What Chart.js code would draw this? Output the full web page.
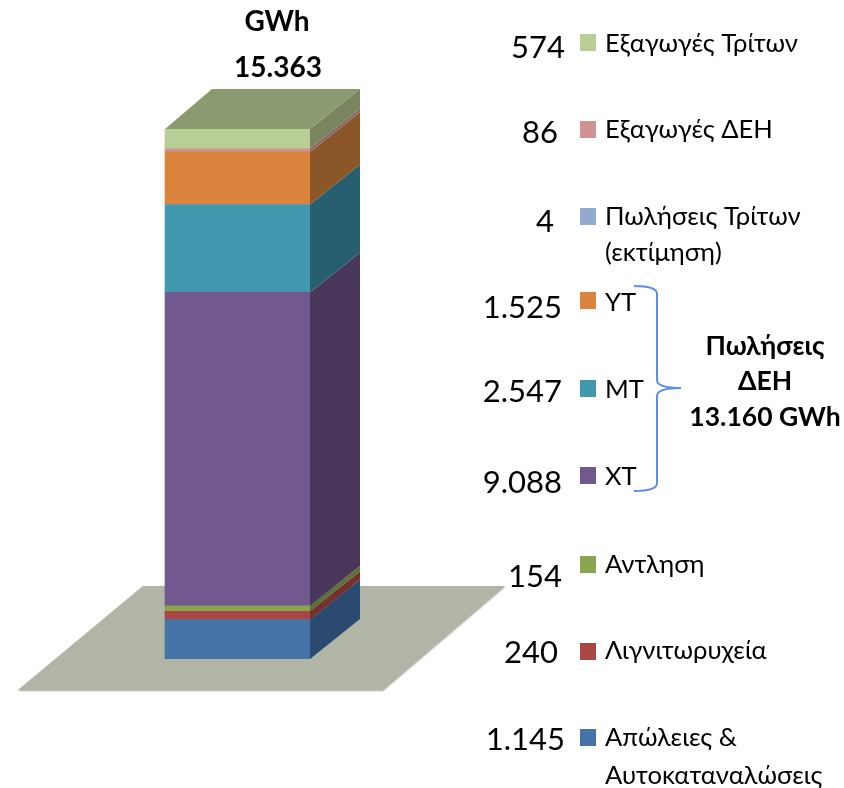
<!DOCTYPE html>
<html>
<head>
<meta charset="utf-8">
<script src="https://cdn.jsdelivr.net/npm/chart.js@4/dist/chart.umd.min.js"></script>
<style>
  html, body { margin: 0; padding: 0; background: #fff; }
  #wrap { position: relative; width: 844px; height: 788px; }
</style>
</head>
<body>
<div id="wrap"><canvas id="chart" width="844" height="788"></canvas></div>
<script>
const categories = ['GWh'];
const seriesNames = ['Απώλειες & Αυτοκαταναλώσεις', 'Λιγνιτωρυχεία', 'Αντληση', 'XT', 'MT', 'YT', 'Πωλήσεις Τρίτων (εκτίμηση)', 'Εξαγωγές ΔΕΗ', 'Εξαγωγές Τρίτων'];
const seriesValues = [1145, 240, 154, 9088, 2547, 1525, 4, 86, 574];
const valueLabels = ['1.145', '240', '154', '9.088', '2.547', '1.525', '4', '86', '574'];
const totalLabel = '15.363';
const groupLines = ['Πωλήσεις', 'ΔΕΗ', '13.160 GWh'];

const frontColors = ['#4572A7', '#AA4643', '#89A54E', '#71588F', '#4198AF', '#DB843D', '#93A9CF', '#D19392', '#B9CD96'];
const sideColors = ['#2A4A70', '#75302D', '#5D7335', '#4A375C', '#285F70', '#8B5628', '#5F6F8A', '#8A6060', '#7A8560'];
const topColor = '#8C9A70';
const floorColor = '#B1B5A5';
const braceColor = '#5B8CEE';

// layout of the legend column, bottom row first
const swatchY = [729, 643, 556, 467, 380, 292, 208, 121, 34];
const valueEndX = [565, 558, 562, 562, 562, 562, 554, 558, 565];
const valueBase = [750, 663, 587, 493, 402, 318, 232, 143, 58];
const labelBase = [[746, 784], [659], [573], [485], [398], [311], [225, 261], [138], [52]];
const labelLines = [['Απώλειες &', 'Αυτοκαταναλώσεις'], ['Λιγνιτωρυχεία'], ['Αντληση'], ['XT'], ['MT'], ['YT'], ['Πωλήσεις Τρίτων', '(εκτίμηση)'], ['Εξαγωγές ΔΕΗ'], ['Εξαγωγές Τρίτων']];

const FONT = 'Lato, "Open Sans", sans-serif';
const DEPTH_X = 50;
const DEPTH_Y = 40;

function poly(ctx, pts, fill) {
  ctx.beginPath();
  pts.forEach((p, i) => i ? ctx.lineTo(p[0], p[1]) : ctx.moveTo(p[0], p[1]));
  ctx.closePath();
  ctx.fillStyle = fill;
  ctx.fill();
}

// floor goes under the bar, offsets are from the bar's bottom corners
const floorPlugin = {
  id: 'floor',
  beforeDatasetsDraw(chart) {
    const ctx = chart.ctx;
    const bar = chart.getDatasetMeta(0).data[0];
    const left = bar.x - bar.width / 2;
    const right = bar.x + bar.width / 2;
    const base = chart.scales.y.getPixelForValue(0);
    const pts = [[left - 147, base + 31], [right + 73, base + 31], [right + 195, base - 73], [left - 22, base - 73]];
    ctx.save();
    ctx.shadowColor = 'rgba(0,0,0,0.35)';
    ctx.shadowBlur = 2;
    ctx.shadowOffsetY = 1;
    poly(ctx, pts, floorColor);
    ctx.restore();
  }
};

// side and top faces of the column
const depthPlugin = {
  id: 'depth',
  afterDatasetsDraw(chart) {
    const ctx = chart.ctx;
    chart.data.datasets.forEach((ds, i) => {
      const bar = chart.getDatasetMeta(i).data[0];
      const r = bar.x + bar.width / 2;
      poly(ctx, [[r, bar.base], [r + DEPTH_X, bar.base - DEPTH_Y], [r + DEPTH_X, bar.y - DEPTH_Y], [r, bar.y]], sideColors[i]);
    });
    const last = chart.getDatasetMeta(chart.data.datasets.length - 1).data[0];
    const l = last.x - last.width / 2;
    const r = last.x + last.width / 2;
    poly(ctx, [[l, last.y], [r, last.y], [r + DEPTH_X, last.y - DEPTH_Y], [l + 47, last.y - DEPTH_Y]], topColor);
  }
};

const textPlugin = {
  id: 'texts',
  afterDraw(chart) {
    const ctx = chart.ctx;
    ctx.save();
    ctx.fillStyle = '#000';
    ctx.textBaseline = 'alphabetic';

    ctx.textAlign = 'center';
    ctx.font = 'bold 28px ' + FONT;
    ctx.fillText(categories[0], 277, 31);
    ctx.fillText(totalLabel, 278, 77);
    ctx.font = 'bold 26.5px ' + FONT;
    groupLines.forEach((t, i) => ctx.fillText(t, 765, [355, 390, 426][i]));

    seriesNames.forEach((name, i) => {
      ctx.fillStyle = frontColors[i];
      ctx.fillRect(580, swatchY[i], 16, 17);
      ctx.fillStyle = '#000';
      ctx.textAlign = 'right';
      ctx.font = '31px ' + FONT;
      ctx.fillText(valueLabels[i], valueEndX[i], valueBase[i]);
      ctx.textAlign = 'left';
      ctx.font = '25.6px ' + FONT;
      labelLines[i].forEach((t, j) => ctx.fillText(t, 605, labelBase[i][j]));
    });

    // brace round the three voltage rows
    ctx.strokeStyle = braceColor;
    ctx.lineWidth = 2;
    ctx.beginPath();
    ctx.moveTo(634, 286);
    ctx.quadraticCurveTo(657, 286, 657, 294);
    ctx.lineTo(657, 380);
    ctx.quadraticCurveTo(657, 388, 681, 388);
    ctx.quadraticCurveTo(657, 388, 657, 396);
    ctx.lineTo(657, 483);
    ctx.quadraticCurveTo(657, 491, 634, 491);
    ctx.stroke();
    ctx.restore();
  }
};

new Chart(document.getElementById('chart'), {
  type: 'bar',
  data: {
    labels: categories,
    datasets: seriesNames.map((name, i) => ({
      label: name,
      data: [seriesValues[i]],
      backgroundColor: frontColors[i],
      borderWidth: 0,
      barThickness: 145
    }))
  },
  options: {
    responsive: false,
    animation: false,
    layout: { padding: { left: 100, right: 469, top: 129, bottom: 129 } },
    plugins: { legend: { display: false }, tooltip: { enabled: false } },
    scales: {
      x: { stacked: true, display: false },
      y: { stacked: true, display: false, min: 0, max: 15363 }
    }
  },
  plugins: [floorPlugin, depthPlugin, textPlugin]
});
</script>
</body>
</html>
